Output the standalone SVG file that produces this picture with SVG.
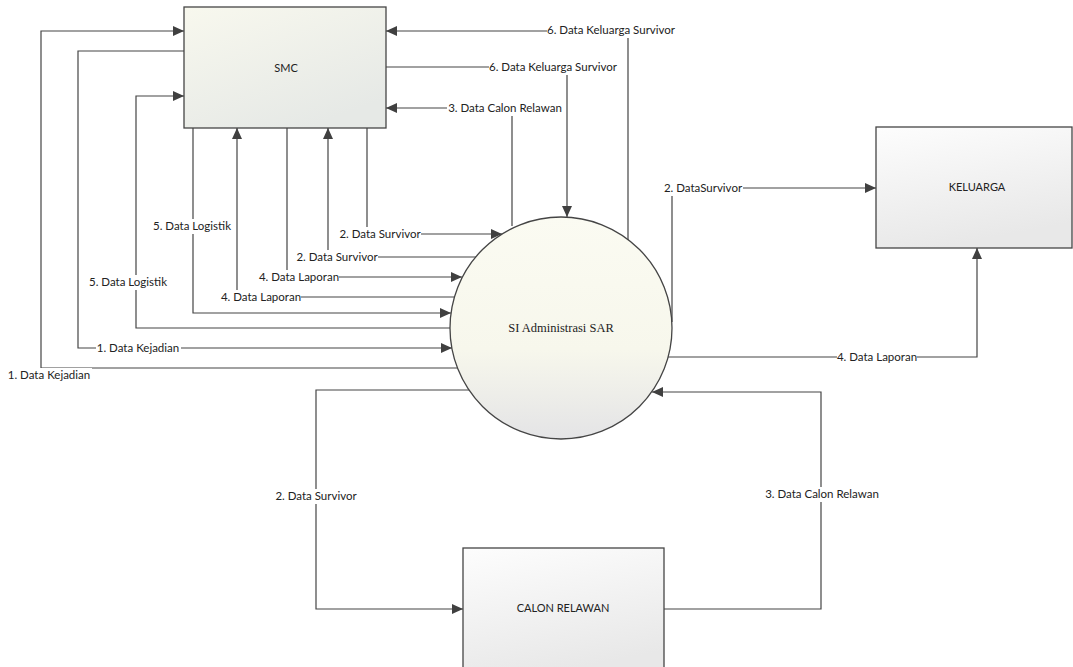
<svg xmlns="http://www.w3.org/2000/svg" width="1073" height="667" viewBox="0 0 1073 667">
<defs>
<style>
.edge{fill:none;stroke:#454545;stroke-width:1.2}
.box{stroke:#454545;stroke-width:1.3}
.lbl{font-family:Lato,"Liberation Sans",sans-serif;font-size:11.5px;fill:#222;text-anchor:middle}
.nt{font-family:Lato,"Liberation Sans",sans-serif;font-size:11px;fill:#222;text-anchor:middle}
.bg{fill:#fff}
</style>
<linearGradient id="gBox" x1="0" y1="0" x2="0.3" y2="1">
<stop offset="0" stop-color="#fdfdfd"/>
<stop offset="1" stop-color="#e8e8e8"/>
</linearGradient>
<linearGradient id="gSmc" x1="0" y1="0" x2="0.6" y2="1">
<stop offset="0" stop-color="#f8f8ee"/>
<stop offset="1" stop-color="#e6e9e6"/>
</linearGradient>
<linearGradient id="gCirc" x1="0" y1="0" x2="0" y2="1">
<stop offset="0" stop-color="#fbfbf2"/>
<stop offset="0.6" stop-color="#f7f7ec"/>
<stop offset="1" stop-color="#e4e4e6"/>
</linearGradient>
<marker id="arr" markerUnits="userSpaceOnUse" markerWidth="12" markerHeight="10" refX="11" refY="5" orient="auto">
<path d="M0,0 L11,5 L0,10 z" fill="#404040"/>
</marker>
</defs>
<rect width="1073" height="667" fill="#fff"/>

<g id="smc">
<rect class="box" x="184" y="7" width="202" height="121" fill="url(#gSmc)"/>
<text class="nt" x="286" y="72">SMC</text>
</g>
<g id="keluarga">
<rect class="box" x="876" y="127" width="196" height="121" fill="url(#gBox)"/>
<text class="nt" x="977" y="191">KELUARGA</text>
</g>
<g id="calon-relawan">
<rect class="box" x="463" y="548" width="201" height="130" fill="url(#gBox)"/>
<text class="nt" x="563" y="612">CALON RELAWAN</text>
</g>
<g id="si-administrasi-sar">
<circle class="box" cx="561" cy="328" r="111" fill="url(#gCirc)"/>
<text x="561" y="332" font-family="'Liberation Serif',serif" font-size="12.5" fill="#222" text-anchor="middle">SI Administrasi SAR</text>
</g>

<g id="connectors">
<path class="edge" marker-end="url(#arr)" d="M457,368 H41 V31 H184"/>
<path class="edge" marker-end="url(#arr)" d="M184,51 H78 V348 H452"/>
<path class="edge" marker-end="url(#arr)" d="M450,328 H136 V96 H184"/>
<path class="edge" marker-end="url(#arr)" d="M193,128 V313 H451"/>
<path class="edge" marker-end="url(#arr)" d="M454,297 H237 V128"/>
<path class="edge" marker-end="url(#arr)" d="M287,128 V277 H462"/>
<path class="edge" marker-end="url(#arr)" d="M476,257 H328 V128"/>
<path class="edge" marker-end="url(#arr)" d="M367,128 V234 H502"/>
<path class="edge" marker-end="url(#arr)" d="M628,240 V31 H386"/>
<path class="edge" marker-end="url(#arr)" d="M386,67 H567 V217"/>
<path class="edge" marker-end="url(#arr)" d="M512,226 V108 H386"/>
<path class="edge" marker-end="url(#arr)" d="M672,322 V188 H876"/>
<path class="edge" marker-end="url(#arr)" d="M668,357 H977 V248"/>
<path class="edge" marker-end="url(#arr)" d="M664,609 H821 V392 H652"/>
<path class="edge" marker-end="url(#arr)" d="M469,390 H316 V609 H463"/>

<g id="labels">
<rect class="bg" x="547" y="23" width="128" height="15"/>
<text class="lbl" x="611" y="34">6. Data Keluarga Survivor</text>
<rect class="bg" x="489" y="60" width="128" height="15"/>
<text class="lbl" x="553" y="71">6. Data Keluarga Survivor</text>
<rect class="bg" x="447" y="101" width="116" height="15"/>
<text class="lbl" x="505" y="112">3. Data Calon Relawan</text>
<rect class="bg" x="664" y="181" width="79" height="15"/>
<text class="lbl" x="703" y="192">2. DataSurvivor</text>
<rect class="bg" x="154" y="219" width="77" height="15"/>
<text class="lbl" x="192" y="230">5. Data Logistik</text>
<rect class="bg" x="339" y="227" width="82" height="15"/>
<text class="lbl" x="380" y="238">2. Data Survivor</text>
<rect class="bg" x="296" y="250" width="82" height="15"/>
<text class="lbl" x="337" y="261">2. Data Survivor</text>
<rect class="bg" x="259" y="270" width="80" height="15"/>
<text class="lbl" x="299" y="281">4. Data Laporan</text>
<rect class="bg" x="90" y="275" width="77" height="15"/>
<text class="lbl" x="128" y="286">5. Data Logistik</text>
<rect class="bg" x="221" y="290" width="80" height="15"/>
<text class="lbl" x="261" y="301">4. Data Laporan</text>
<rect class="bg" x="96" y="341" width="85" height="15"/>
<text class="lbl" x="138" y="352">1. Data Kejadian</text>
<rect class="bg" x="7" y="368" width="85" height="15"/>
<text class="lbl" x="49" y="379">1. Data Kejadian</text>
<rect class="bg" x="837" y="350" width="80" height="15"/>
<text class="lbl" x="877" y="361">4. Data Laporan</text>
<rect class="bg" x="275" y="489" width="82" height="15"/>
<text class="lbl" x="316" y="500">2. Data Survivor</text>
<rect class="bg" x="763" y="487" width="118" height="15"/>
<text class="lbl" x="822" y="498">3. Data Calon Relawan</text>
</g>
</g>
</svg>
